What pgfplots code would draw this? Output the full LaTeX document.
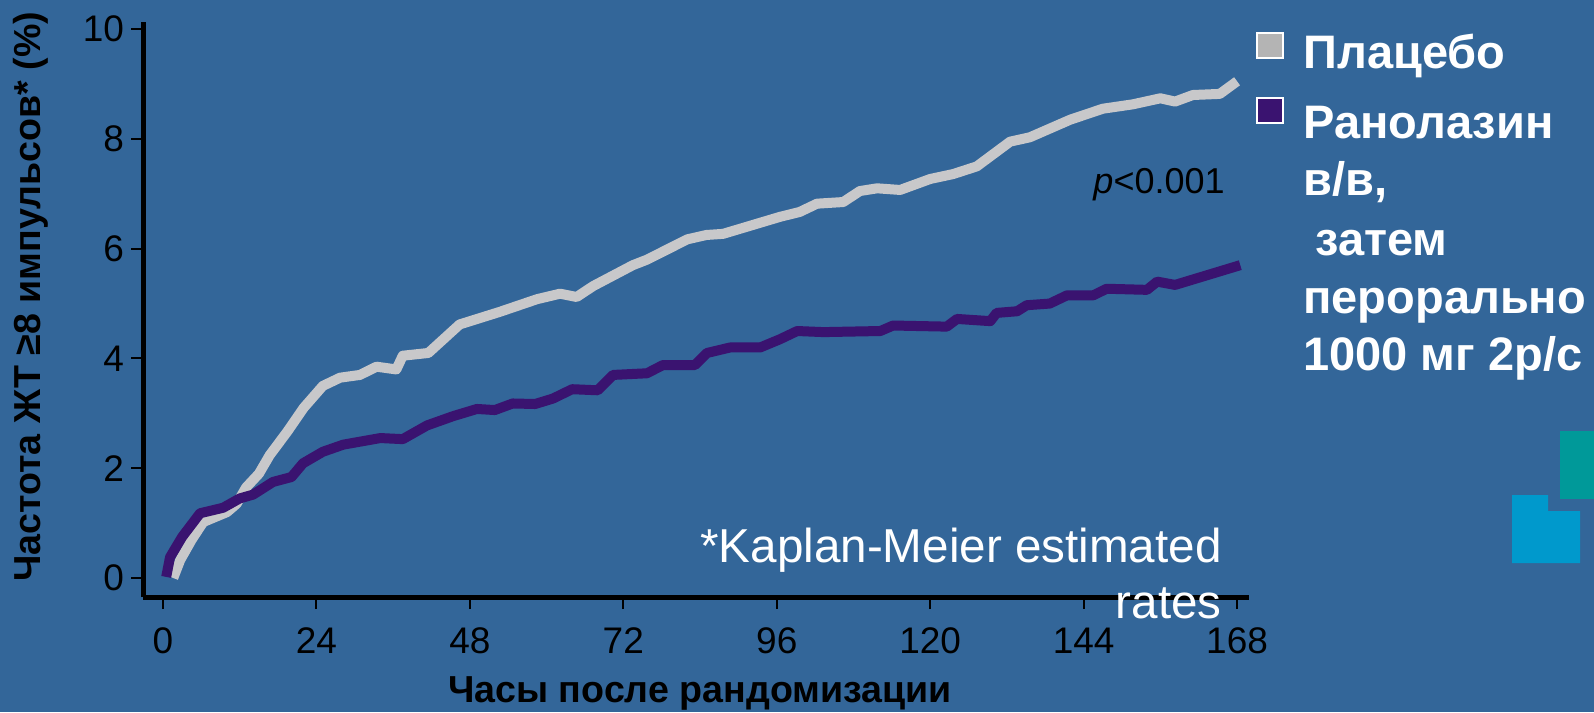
\documentclass[border=0pt]{standalone}
\usepackage{pgfplots}
\pgfplotsset{compat=1.18}
\usepackage{fontspec}
\setmainfont{Liberation Sans}
\definecolor{bgblue}{RGB}{51,102,153}
\definecolor{placebo}{RGB}{200,200,202}
\definecolor{placebosq}{RGB}{180,180,180}
\definecolor{rano}{RGB}{58,19,112}
\definecolor{decoteal}{RGB}{0,153,153}
\definecolor{decoblue}{RGB}{0,153,204}
\pgfplotstableread{
h v
1.6 0.0
2.7 0.33
4.5 0.70
6.3 1.02
10.0 1.20
11.5 1.35
13.0 1.65
15.0 1.90
16.7 2.24
19.4 2.66
22.0 3.10
25.0 3.50
27.7 3.65
30.8 3.70
33.4 3.85
36.5 3.80
37.5 4.05
41.5 4.10
46.4 4.62
52.7 4.85
58.5 5.08
62.1 5.18
64.7 5.12
67.3 5.32
73.5 5.70
75.7 5.80
82.0 6.17
85.0 6.25
87.6 6.27
96.5 6.58
99.6 6.67
102.3 6.82
106.4 6.85
109.0 7.05
111.7 7.10
115.3 7.07
120.0 7.27
123.6 7.36
127.3 7.50
132.5 7.95
135.6 8.03
141.9 8.35
147.0 8.55
151.7 8.63
156.0 8.74
158.3 8.68
161.1 8.80
165.3 8.82
168.0 9.05
}\placebotable
\pgfplotstableread{
h v
0.5 0.02
1.1 0.38
3.0 0.75
5.8 1.18
9.4 1.28
12.0 1.45
14.1 1.52
17.2 1.75
20.1 1.84
21.9 2.09
25.0 2.30
28.2 2.43
34.0 2.55
37.5 2.53
41.3 2.78
45.4 2.95
49.1 3.08
51.9 3.06
54.7 3.18
58.2 3.17
61.0 3.27
64.0 3.44
68.0 3.42
70.4 3.70
75.7 3.73
78.2 3.88
83.2 3.88
85.1 4.10
88.7 4.20
93.4 4.20
96.5 4.35
99.2 4.50
103.3 4.48
112.2 4.50
114.2 4.60
122.6 4.58
124.2 4.72
129.4 4.68
130.4 4.83
133.6 4.86
135.1 4.97
138.7 5.00
141.4 5.15
145.5 5.15
147.6 5.27
153.9 5.25
155.5 5.40
158.3 5.34
168.5 5.70
}\ranotable
\begin{document}
\begin{tikzpicture}[x=1bp,y=1bp]
\fill[bgblue] (0,0) rectangle (797,356);
\useasboundingbox (0,0) rectangle (797,356);
\begin{axis}[
  at={(71.5bp,57.5bp)}, anchor=south west,
  scale only axis, width=553bp, height=287.5bp,
  xmin=-3.13, xmax=169.87, ymin=-0.346, ymax=10.13,
  axis x line=bottom, axis y line=left,
  axis line style={line width=2.5bp, -, black},
  xtick={0,24,...,168}, ytick={0,2,...,10},
  tick align=outside, major tick length=6bp,
  tick style={black, line width=1bp},
  /pgf/number format/assume math mode=true,
  ticklabel style={font=\fontsize{18.5bp}{22bp}\selectfont, text=black},
  xticklabel style={yshift=-6bp},
  every axis y label/.style={at={(axis description cs:-0.1013,0.522)}, rotate=90, anchor=center,
    font=\fontsize{18.8bp}{22bp}\selectfont\bfseries},
  every axis x label/.style={at={(axis description cs:0.5036,-0.183)}, anchor=base,
    font=\fontsize{18.8bp}{22bp}\selectfont\bfseries},
  ylabel={Частота ЖТ ≥8 импульсов* (\%)},
  xlabel={Часы после рандомизации},
  clip=false,
]
\addplot[placebo, line width=5bp, line join=round] table[x=h, y=v] {\placebotable};
\addplot[rano, line width=5bp, line join=round] table[x=h, y=v] {\ranotable};
\end{axis}
% p-value and note
\node[anchor=base east, inner sep=0, font=\fontsize{18bp}{21bp}\selectfont] at (612.5,259.5) {\textit{p}<0.001};
\node[anchor=base east, inner sep=0, text=white, font=\fontsize{23.8bp}{28bp}\selectfont] at (611,75) {*Kaplan-Meier estimated};
\node[anchor=base east, inner sep=0, text=white, font=\fontsize{23.8bp}{28bp}\selectfont] at (611,47) {rates};
% legend
\fill[placebosq, draw=white, line width=1bp] (628.5,327) rectangle (641.5,339.5);
\fill[rano, draw=white, line width=1bp] (628.5,294.5) rectangle (641.5,307);
\begin{scope}[every node/.style={anchor=base west, inner sep=0, text=white, font=\fontsize{23.5bp}{28bp}\selectfont\bfseries}]
\node at (651.5,322) {Плацебо};
\node at (651.5,287) {Ранолазин};
\node at (651.5,258.5) {в/в,};
\node at (651.5,228.5) {\hspace{6bp}затем};
\node at (651.5,199.5) {перорально};
\node at (651.5,171) {1000 мг 2р/с};
\end{scope}
% decoration
\fill[decoteal] (780,106.5) rectangle (797,140.5);
\fill[decoblue] (756,108.5) -- (774,108.5) -- (774,100.5) -- (790,100.5) -- (790,74.5) -- (756,74.5) -- cycle;
\end{tikzpicture}
\end{document}
